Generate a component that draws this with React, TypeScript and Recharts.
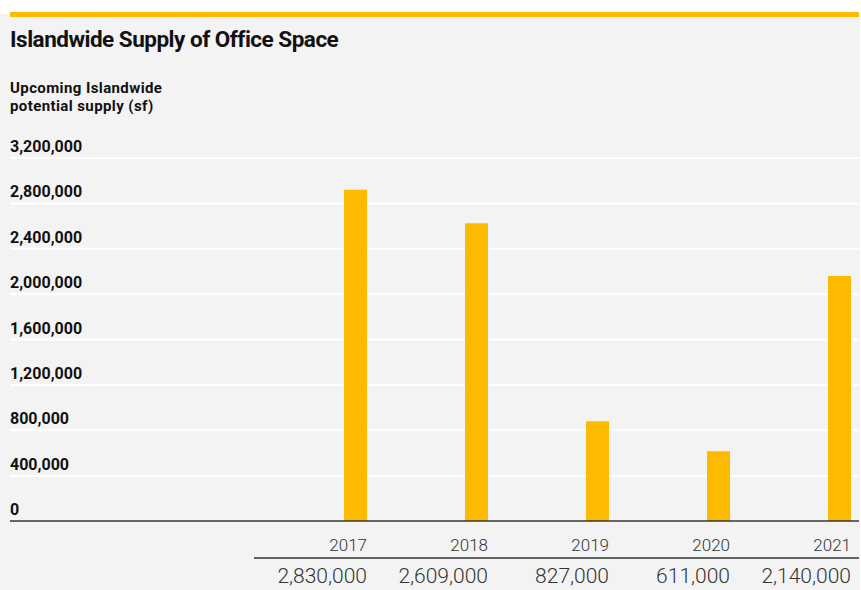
import React from 'react';
import { BarChart, Bar, XAxis, YAxis, CartesianGrid, Rectangle } from 'recharts';

const years = ['2017', '2018', '2019', '2020', '2021'];
const barValues = [2920000, 2625000, 880000, 615000, 2160000];
const tableLabels = ['2,830,000', '2,609,000', '827,000', '611,000', '2,140,000'];
const yTicks = [0, 400000, 800000, 1200000, 1600000, 2000000, 2400000, 2800000, 3200000];
const yTitleLines = ['Upcoming Islandwide', 'potential supply (sf)'];

const data = years.map((y, i) => ({ year: y, supply: barValues[i], label: tableLabels[i] }));

const W = 861;
const H = 590;
const FONT = 'Roboto, "Noto Sans", sans-serif';
const YELLOW = '#FCBA00';
const BAR_SIZE = 23;
const BAND = 121;
const CELL_PAD = 8;
const BAR_SHIFT = BAND / 2 - CELL_PAD - BAR_SIZE / 2;

const fmt = (v: number) => v.toLocaleString('en-US');

const YTick = (props: any) => {
  const { y, payload } = props;
  return (
    <text x={10} y={y - 6} fontFamily={FONT} fontWeight={700} fontSize={16} fill="#111" textAnchor="start">
      {fmt(payload.value)}
    </text>
  );
};

const XTick = (props: any) => {
  const { x, y, payload, index } = props;
  const right = x + BAND / 2 - CELL_PAD;
  return (
    <g>
      <text x={right} y={y + 30} fontFamily={FONT} fontWeight={300} fontSize={17} fill="#333" textAnchor="end">
        {payload.value}
      </text>
      <line x1={x - BAND / 2} x2={x + BAND / 2} y1={y + 37} y2={y + 37} stroke="#333" strokeWidth={1.5} />
      <text x={right} y={y + 62} fontFamily={FONT} fontWeight={300} fontSize={21} fill="#333" textAnchor="end">
        {data[index] ? data[index].label : ''}
      </text>
    </g>
  );
};

const ShiftedBar = (props: any) => <Rectangle {...props} x={props.x + BAR_SHIFT} />;

export default function App() {
  return (
    <div style={{ position: 'fixed', left: 0, top: 0, width: W, height: H, background: '#fff', overflow: 'hidden' }}>
      <div style={{ position: 'absolute', left: 0, top: 14, width: 860, height: H - 14, background: '#f3f3f3' }} />
      <div style={{ position: 'absolute', left: 10, top: 12, width: 849, height: 4.5, background: YELLOW }} />
      <div
        style={{
          position: 'absolute',
          left: 10,
          top: 26,
          fontFamily: FONT,
          fontWeight: 700,
          fontSize: 22.5,
          lineHeight: '26px',
          letterSpacing: -0.5,
          color: '#111',
          whiteSpace: 'nowrap',
        }}
      >
        Islandwide Supply of Office Space
      </div>
      {yTitleLines.map((line, i) => (
        <div
          key={line}
          style={{
            position: 'absolute',
            left: 10,
            top: 80 + i * 18,
            height: 17,
            fontFamily: FONT,
            fontWeight: 700,
            fontSize: 15,
            lineHeight: '17px',
            letterSpacing: 0.4,
            color: '#111',
            whiteSpace: 'nowrap',
          }}
        >
          {line}
        </div>
      ))}
      <div style={{ position: 'absolute', left: 0, top: 0 }}>
        <BarChart width={W} height={H} data={data} margin={{ top: 158, right: 2, left: 0, bottom: 0 }}>
          <CartesianGrid horizontal vertical={false} stroke="#ffffff" strokeWidth={2} />
          <XAxis
            dataKey="year"
            type="category"
            padding={{ left: 244, right: 0 }}
            height={69}
            tickLine={false}
            tickSize={0}
            tickMargin={0}
            axisLine={{ stroke: '#333', strokeWidth: 1.5 }}
            tick={<XTick />}
            interval={0}
          />
          <YAxis
            domain={[0, 3200000]}
            ticks={yTicks}
            width={10}
            axisLine={false}
            tickLine={false}
            tick={<YTick />}
            interval={0}
          />
          <Bar dataKey="supply" fill={YELLOW} barSize={BAR_SIZE} shape={<ShiftedBar />} isAnimationActive={false} />
        </BarChart>
      </div>
    </div>
  );
}
